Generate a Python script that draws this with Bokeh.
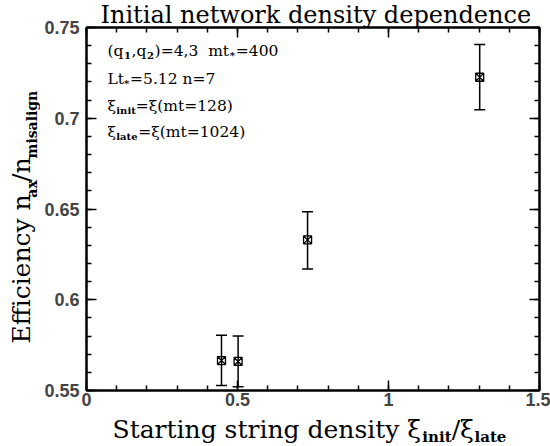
import math
from bokeh.plotting import figure
from bokeh.layouts import column, row
from bokeh.models import (ColumnDataSource, Whisker, LinearAxis, FixedTicker,
                          Label, Range1d, TeeHead)
from bokeh.embed import file_html
from bokeh.resources import INLINE

# ---- data ----
density_ratio = [0.447, 0.502, 0.732, 1.302]
efficiency = [0.5665, 0.566, 0.633, 0.7226]
eff_upper = [0.5805, 0.580, 0.6485, 0.7406]
eff_lower = [0.5527, 0.552, 0.617, 0.7047]

x_ticks = [0, 0.5, 1, 1.5]
x_tick_labels = ["0", "0.5", "1", "1.5"]
x_minor = [i / 10 for i in range(0, 16)]
y_ticks = [0.55, 0.6, 0.65, 0.7, 0.75]
y_tick_labels = ["0.55", "0.6", "0.65", "0.7", "0.75"]
y_minor = [round(0.55 + i / 100, 2) for i in range(0, 21)]

title_text = "Initial network density dependence"
xlabel_pieces = [("Starting string density ξ", "m"), ("init", "s"), ("/ξ", "m"), ("late", "s")]
ylabel_pieces = [("Efficiency n", "m"), ("ax", "s"), ("/n", "m"), ("misalign", "s")]
note_lines = [
    [("(q", "m"), ("1", "s"), (",q", "m"), ("2", "s"),
     (")=4,3\u00a0\u00a0mt", "m"), ("*", "s"), ("=400", "m")],
    [("Lt", "m"), ("*", "s"), ("=5.12 n=7", "m")],
    [("ξ", "m"), ("init", "s"), ("=ξ(mt=128)", "m")],
    [("ξ", "m"), ("late", "s"), ("=ξ(mt=1024)", "m")],
]

SERIF = "DejaVu Serif"

# approximate advance widths of DejaVu Serif (units per 2048 em)
_W = {' ': 651, '\u00a0': 651, '(': 799, ')': 799, ',': 651, '.': 651, '/': 690, '=': 1716,
      '*': 1024, 'E': 1343, 'L': 1290, 'S': 1339, 'I': 958,
      'a': 1221, 'c': 1155, 'd': 1313, 'e': 1212, 'f': 739, 'g': 1313, 'i': 655,
      'k': 1264, 'l': 655, 'm': 1966, 'n': 1317, 'o': 1233, 'p': 1313, 'q': 1313,
      'r': 986, 's': 1061, 't': 823, 'w': 1792, 'x': 1228, 'y': 1233, 'ξ': 1100}


def text_width(s, size, bold=False):
    tot = sum(_W.get(c, 1303) for c in s) / 2048.0 * size
    return tot * (1.12 if bold else 1.0)


def bare_fig(w, h):
    f = figure(width=w, height=h, x_range=Range1d(0, w), y_range=Range1d(h, 0),
               output_backend="svg", toolbar_location=None,
               x_axis_location=None, y_axis_location=None,
               min_border_left=0, min_border_right=0, min_border_top=0, min_border_bottom=0)
    f.grid.visible = False
    f.outline_line_color = None
    f.background_fill_color = "white"
    f.border_fill_color = "white"
    return f


def put(fig, X, Y, text, size, sub, vertical):
    fig.add_layout(Label(x=X, y=Y, text=text, text_font=SERIF,
                         text_font_size=f"{size}px",
                         text_font_style="bold" if sub else "normal",
                         text_align="left", text_baseline="middle",
                         angle=(math.pi / 2 if vertical else 0.0),
                         text_color="black"))


def compose(fig, conv, x0, y0, pieces, msize, ssize, drop, gap=0.0):
    pos = x0
    for text, kind in pieces:
        sub = kind == "s"
        size = ssize if sub else msize
        X, Y = conv(pos, y0 + (drop if sub else 0))
        put(fig, X, Y, text, size, sub, False)
        pos += text_width(text, size, sub) + gap


# ---------- geometry (page pixels) ----------
PAGE_W, PAGE_H = 550, 446
XLAB_H = 30
YLAB_W = 40
MAIN_W = PAGE_W - YLAB_W
MAIN_H = PAGE_H - XLAB_H
FL, FT, FW, FH = 86, 27, 453, 363
X0, X1, Y0, Y1 = 0.0, 1.5, 0.55, 0.75

# ---------- main plot ----------
p = figure(width=MAIN_W, height=MAIN_H, x_range=Range1d(X0, X1), y_range=Range1d(Y0, Y1),
           output_backend="svg", toolbar_location=None,
           x_axis_location=None, y_axis_location=None,
           min_border_left=FL - YLAB_W, min_border_right=PAGE_W - (FL + FW),
           min_border_top=FT, min_border_bottom=MAIN_H - FT - FH)
p.grid.visible = False
p.outline_line_color = "black"
p.outline_line_width = 2
p.background_fill_color = "white"
p.border_fill_color = "white"

p.title.text = title_text
p.title.text_font = SERIF
p.title.text_font_size = "24px"
p.title.text_font_style = "normal"
p.title.text_color = "black"
p.title.align = "left"
p.title.offset = 14
p.title.standoff = -3


def make_axis(loc, ticks, minor, labels, show, standoff):
    ax = LinearAxis()
    ax.ticker = FixedTicker(ticks=ticks, minor_ticks=minor)
    ax.major_tick_in = 10
    ax.major_tick_out = 0
    ax.minor_tick_in = 5
    ax.minor_tick_out = 0
    ax.axis_line_width = 2
    ax.major_tick_line_width = 1.5
    ax.minor_tick_line_width = 1.5
    ax.major_label_text_font = "Liberation Sans"
    ax.major_label_text_font_style = "bold"
    ax.major_label_text_font_size = "18px"
    ax.major_label_overrides = {t: l for t, l in zip(ticks, labels)}
    if show:
        ax.major_label_standoff = standoff
    else:
        ax.major_label_text_color = None
        ax.major_label_text_font_size = "0px"
        ax.major_label_standoff = 0
    p.add_layout(ax, loc)
    return ax


make_axis("below", x_ticks, x_minor, x_tick_labels, True, 2)
make_axis("above", x_ticks, x_minor, x_tick_labels, False, 0)
make_axis("left", y_ticks, y_minor, y_tick_labels, True, 7)
make_axis("right", y_ticks, y_minor, y_tick_labels, False, 0)

src = ColumnDataSource(dict(x=density_ratio, y=efficiency, upper=eff_upper, lower=eff_lower))
w = Whisker(source=src, base="x", upper="upper", lower="lower", dimension="height",
            line_color="black", line_width=1.5,
            upper_head=TeeHead(size=11, line_color="black", line_width=1.5),
            lower_head=TeeHead(size=11, line_color="black", line_width=1.5))
p.add_layout(w)
p.scatter("x", "y", source=src, marker="square_x", size=8, fill_color=None,
          line_color="black", line_width=1.3)


def main_conv(px, py):
    return (X0 + (px - FL) / FW * (X1 - X0), Y1 - (py - FT) / FH * (Y1 - Y0))


for i, line in enumerate(note_lines):
    cy = [50, 78, 105, 131][i]
    compose(p, main_conv, 107, cy, line, 15.5, 10, 5, gap=0.5)

# ---------- y label (rotated pieces, start positions along the text) ----------
yf = bare_fig(YLAB_W, MAIN_H)
y_starts = [362, 195, 177, 150]
for (text, kind), ys in zip(ylabel_pieces, y_starts):
    sub = kind == "s"
    put(yf, 31 if sub else 21, ys, text, 14 if sub else 25, sub, True)

# ---------- x label ----------
xf = bare_fig(PAGE_W, XLAB_H)
compose(xf, lambda a, b: (a, b - MAIN_H), 112, 429, xlabel_pieces, 25, 15, 7, gap=1)

layout = column(row(yf, p), xf)
open("out.html", "w").write(file_html(layout, INLINE))
